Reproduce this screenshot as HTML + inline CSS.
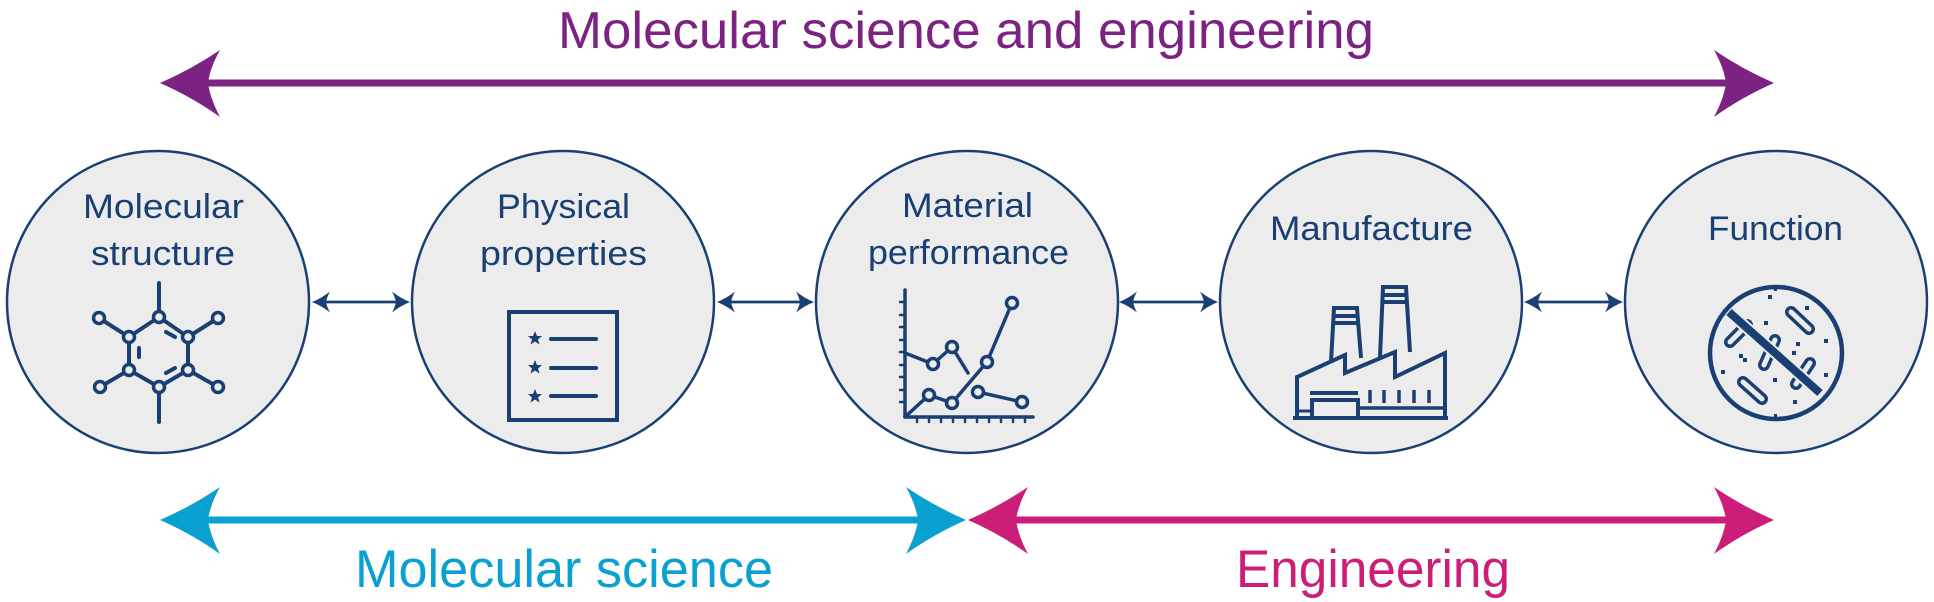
<!DOCTYPE html>
<html>
<head>
<meta charset="utf-8">
<style>
html,body{margin:0;padding:0;background:#fff;}
svg{display:block;}
text{font-family:"Liberation Sans","DejaVu Sans",sans-serif;}
</style>
</head>
<body>
<svg width="1934" height="602" viewBox="0 0 1934 602" xmlns="http://www.w3.org/2000/svg">
<rect width="1934" height="602" fill="#fff"/>

<!-- Title -->
<text x="558" y="48" font-size="52" fill="#7b2283" textLength="816" lengthAdjust="spacingAndGlyphs">Molecular science and engineering</text>

<!-- Purple arrow -->
<line x1="200" y1="83" x2="1735" y2="83" stroke="#7b2283" stroke-width="7"/>
<path d="M160,83 Q192,69 220,50 Q210,68 208,83 Q210,98 220,117 Q192,97 160,83 Z" fill="#7b2283"/>
<path d="M1774,83 Q1742,69 1714,50 Q1724,68 1726,83 Q1724,98 1714,117 Q1742,97 1774,83 Z" fill="#7b2283"/>

<!-- Circles -->
<g fill="#ececec" stroke="#1a3f73" stroke-width="2.5">
<circle cx="158" cy="302" r="151"/>
<circle cx="563" cy="302" r="151"/>
<circle cx="967" cy="302" r="151"/>
<circle cx="1371" cy="302" r="151"/>
<circle cx="1776" cy="302" r="151"/>
</g>

<!-- Small double arrows -->
<g fill="#1a3f73" stroke="none">
<g>
<line x1="320" y1="302" x2="402" y2="302" stroke="#1a3f73" stroke-width="2.8"/>
<path d="M312,302 Q322,298 330,291.5 Q327,297 326,302 Q327,307 330,312.5 Q322,306 312,302 Z"/>
<path d="M410,302 Q400,298 392,291.5 Q395,297 396,302 Q395,307 392,312.5 Q400,306 410,302 Z"/>
</g>
<g>
<line x1="725" y1="302" x2="806" y2="302" stroke="#1a3f73" stroke-width="2.8"/>
<path d="M717,302 Q727,298 735,291.5 Q732,297 731,302 Q732,307 735,312.5 Q727,306 717,302 Z"/>
<path d="M814,302 Q804,298 796,291.5 Q799,297 800,302 Q799,307 796,312.5 Q804,306 814,302 Z"/>
</g>
<g>
<line x1="1127" y1="302" x2="1210" y2="302" stroke="#1a3f73" stroke-width="2.8"/>
<path d="M1119,302 Q1129,298 1137,291.5 Q1134,297 1133,302 Q1134,307 1137,312.5 Q1129,306 1119,302 Z"/>
<path d="M1218,302 Q1208,298 1200,291.5 Q1203,297 1204,302 Q1203,307 1200,312.5 Q1208,306 1218,302 Z"/>
</g>
<g>
<line x1="1532" y1="302" x2="1615" y2="302" stroke="#1a3f73" stroke-width="2.8"/>
<path d="M1524,302 Q1534,298 1542,291.5 Q1539,297 1538,302 Q1539,307 1542,312.5 Q1534,306 1524,302 Z"/>
<path d="M1623,302 Q1613,298 1605,291.5 Q1608,297 1609,302 Q1608,307 1605,312.5 Q1613,306 1623,302 Z"/>
</g>
</g>

<!-- Circle labels -->
<g fill="#1a3f73" font-size="34">
<text x="83" y="218" textLength="161" lengthAdjust="spacingAndGlyphs">Molecular</text>
<text x="91" y="265" textLength="144" lengthAdjust="spacingAndGlyphs">structure</text>
<text x="497" y="218" textLength="133" lengthAdjust="spacingAndGlyphs">Physical</text>
<text x="480" y="265" textLength="167" lengthAdjust="spacingAndGlyphs">properties</text>
<text x="902" y="217" textLength="131" lengthAdjust="spacingAndGlyphs">Material</text>
<text x="868" y="264" textLength="201" lengthAdjust="spacingAndGlyphs">performance</text>
<text x="1270" y="240" textLength="203" lengthAdjust="spacingAndGlyphs">Manufacture</text>
<text x="1708" y="240" textLength="135" lengthAdjust="spacingAndGlyphs">Function</text>
</g>

<!-- Molecule icon -->
<g stroke="#1a3f73" stroke-width="4" fill="none" stroke-linecap="round">
<line x1="159" y1="283" x2="159" y2="317"/>
<line x1="159" y1="387" x2="159" y2="422"/>
<polygon points="159,317 188,337 188,370 159,387 129,370 129,337"/>
<line x1="99" y1="318" x2="129" y2="337"/>
<line x1="218" y1="318" x2="188" y2="337"/>
<line x1="100" y1="387" x2="129" y2="370"/>
<line x1="218" y1="387" x2="188" y2="370"/>
<line x1="139" y1="348" x2="139" y2="357"/>
<line x1="166" y1="332" x2="175" y2="337"/>
<line x1="166" y1="373" x2="175" y2="368"/>
</g>
<g stroke="#1a3f73" stroke-width="3.5" fill="#ececec">
<circle cx="159" cy="317" r="5.5"/>
<circle cx="188" cy="337" r="5.5"/>
<circle cx="188" cy="370" r="5.5"/>
<circle cx="159" cy="387" r="5.5"/>
<circle cx="129" cy="370" r="5.5"/>
<circle cx="129" cy="337" r="5.5"/>
<circle cx="99" cy="318" r="5.5"/>
<circle cx="218" cy="318" r="5.5"/>
<circle cx="100" cy="387" r="5.5"/>
<circle cx="218" cy="387" r="5.5"/>
</g>

<!-- List icon -->
<rect x="509" y="312" width="108" height="108" fill="none" stroke="#1a3f73" stroke-width="4"/>
<g stroke="#1a3f73" stroke-width="4" stroke-linecap="round">
<line x1="551" y1="339" x2="596" y2="339"/>
<line x1="551" y1="368" x2="596" y2="368"/>
<line x1="551" y1="396" x2="596" y2="396"/>
</g>
<g fill="#1a3f73">
<path d="M535,331 L537,336 L542,336 L538,339.5 L539.5,344.5 L535,341.5 L530.5,344.5 L532,339.5 L528,336 L533,336 Z"/>
<path d="M535,360 L537,365 L542,365 L538,368.5 L539.5,373.5 L535,370.5 L530.5,373.5 L532,368.5 L528,365 L533,365 Z"/>
<path d="M535,389 L537,394 L542,394 L538,397.5 L539.5,402.5 L535,399.5 L530.5,402.5 L532,397.5 L528,394 L533,394 Z"/>
</g>

<!-- Graph icon -->
<g stroke="#1a3f73" fill="none" stroke-linecap="round" stroke-linejoin="round">
<line x1="905" y1="290" x2="905" y2="417" stroke-width="3.5"/>
<line x1="905" y1="417" x2="1033" y2="417" stroke-width="3.5"/>
<g stroke-width="2.5">
<line x1="900" y1="302" x2="905" y2="302"/>
<line x1="900" y1="315" x2="905" y2="315"/>
<line x1="900" y1="327" x2="905" y2="327"/>
<line x1="900" y1="340" x2="905" y2="340"/>
<line x1="900" y1="352" x2="905" y2="352"/>
<line x1="900" y1="365" x2="905" y2="365"/>
<line x1="900" y1="377" x2="905" y2="377"/>
<line x1="900" y1="390" x2="905" y2="390"/>
<line x1="900" y1="402" x2="905" y2="402"/>
<line x1="917" y1="417" x2="917" y2="422"/>
<line x1="929" y1="417" x2="929" y2="422"/>
<line x1="941" y1="417" x2="941" y2="422"/>
<line x1="953" y1="417" x2="953" y2="422"/>
<line x1="965" y1="417" x2="965" y2="422"/>
<line x1="977" y1="417" x2="977" y2="422"/>
<line x1="989" y1="417" x2="989" y2="422"/>
<line x1="1001" y1="417" x2="1001" y2="422"/>
<line x1="1013" y1="417" x2="1013" y2="422"/>
<line x1="1025" y1="417" x2="1025" y2="422"/>
</g>
<polyline points="905,353 933,364 952,347 968,373" stroke-width="3.5"/>
<polyline points="978,392 1022,402" stroke-width="3.5"/>
<polyline points="905,417 929,395 952,403 987,362 1012,303" stroke-width="3.5"/>
</g>
<g stroke="#1a3f73" stroke-width="3.5" fill="#ececec">
<circle cx="933" cy="364" r="5.5"/>
<circle cx="952" cy="347" r="5.5"/>
<circle cx="978" cy="392" r="5.5"/>
<circle cx="1022" cy="402" r="5.5"/>
<circle cx="929" cy="395" r="5.5"/>
<circle cx="952" cy="403" r="5.5"/>
<circle cx="987" cy="362" r="5.5"/>
<circle cx="1012" cy="303" r="5.5"/>
</g>

<!-- Factory icon -->
<g stroke="#1a3f73" stroke-width="4" fill="none" stroke-linejoin="miter">
<polyline points="1331,362 1334,308 1357,308 1361,358"/>
<line x1="1334" y1="316" x2="1357" y2="316"/>
<line x1="1334" y1="323" x2="1358" y2="323"/>
<polyline points="1380,357 1383,287 1406,287 1410,352"/>
<line x1="1383" y1="295" x2="1406" y2="295"/>
<line x1="1382" y1="302" x2="1407" y2="302"/>
<path d="M1297,418 L1297,377 L1345,355 L1345,373 L1395,352 L1395,377 L1445,353 L1445,418" fill="#ececec"/>
<line x1="1293" y1="418" x2="1448" y2="418"/>
<line x1="1310" y1="393" x2="1358" y2="393"/>
<rect x="1312" y="400" width="46" height="18"/>
<line x1="1358" y1="408" x2="1445" y2="408" stroke-width="3.5"/>
<line x1="1297" y1="411" x2="1312" y2="411" stroke-width="3"/>
</g>
<g stroke="#1a3f73" stroke-width="3.5">
<line x1="1370" y1="390" x2="1370" y2="403"/>
<line x1="1384" y1="390" x2="1384" y2="403"/>
<line x1="1399" y1="390" x2="1399" y2="403"/>
<line x1="1414" y1="390" x2="1414" y2="403"/>
<line x1="1429" y1="390" x2="1429" y2="403"/>
</g>

<!-- Function icon -->
<circle cx="1776" cy="353" r="66" fill="none" stroke="#1a3f73" stroke-width="4.5"/>
<g stroke-linecap="round">
<g stroke="#1a3f73" stroke-width="12">
<line x1="1791" y1="312" x2="1809" y2="329"/>
<line x1="1730" y1="342" x2="1747" y2="325"/>
<line x1="1764" y1="365" x2="1775" y2="340"/>
<line x1="1796" y1="384" x2="1810" y2="363"/>
<line x1="1743" y1="382" x2="1762" y2="399"/>
</g>
<g stroke="#ececec" stroke-width="5">
<line x1="1791" y1="312" x2="1809" y2="329"/>
<line x1="1730" y1="342" x2="1747" y2="325"/>
<line x1="1764" y1="365" x2="1775" y2="340"/>
<line x1="1796" y1="384" x2="1810" y2="363"/>
<line x1="1743" y1="382" x2="1762" y2="399"/>
</g>
</g>
<line x1="1729" y1="312" x2="1820" y2="393" stroke="#ececec" stroke-width="12"/>
<line x1="1729" y1="312" x2="1820" y2="393" stroke="#1a3f73" stroke-width="8"/>
<g fill="#1a3f73">
<rect x="1768" y="295" width="4" height="4"/>
<rect x="1805" y="306" width="4" height="4"/>
<rect x="1764" y="321" width="4" height="4"/>
<rect x="1824" y="339" width="4" height="4"/>
<rect x="1796" y="342" width="4" height="4"/>
<rect x="1792" y="351" width="4" height="4"/>
<rect x="1739" y="354" width="4" height="4"/>
<rect x="1743" y="358" width="4" height="4"/>
<rect x="1721" y="370" width="4" height="4"/>
<rect x="1773" y="378" width="4" height="4"/>
<rect x="1824" y="373" width="4" height="4"/>
<rect x="1793" y="400" width="4" height="4"/>
<rect x="1774" y="286" width="3" height="5"/>
<rect x="1774" y="414" width="3" height="5"/>
</g>

<!-- Bottom cyan arrow -->
<line x1="200" y1="520" x2="930" y2="520" stroke="#0aa0cf" stroke-width="7"/>
<path d="M160,520 Q192,506 220,487 Q210,505 208,520 Q210,535 220,554 Q192,534 160,520 Z" fill="#0aa0cf"/>
<path d="M966,520 Q934,506 906,487 Q916,505 918,520 Q916,535 906,554 Q934,534 966,520 Z" fill="#0aa0cf"/>

<!-- Bottom magenta arrow -->
<line x1="1005" y1="520" x2="1735" y2="520" stroke="#cc1e78" stroke-width="7"/>
<path d="M968,520 Q1000,506 1028,487 Q1018,505 1016,520 Q1018,535 1028,554 Q1000,534 968,520 Z" fill="#cc1e78"/>
<path d="M1774,520 Q1742,506 1714,487 Q1724,505 1726,520 Q1724,535 1714,554 Q1742,534 1774,520 Z" fill="#cc1e78"/>

<text x="355" y="587" font-size="53" fill="#0aa0cf" textLength="418" lengthAdjust="spacingAndGlyphs">Molecular science</text>
<text x="1236" y="587" font-size="53" fill="#cc1e78" textLength="274" lengthAdjust="spacingAndGlyphs">Engineering</text>
</svg>
</body>
</html>
